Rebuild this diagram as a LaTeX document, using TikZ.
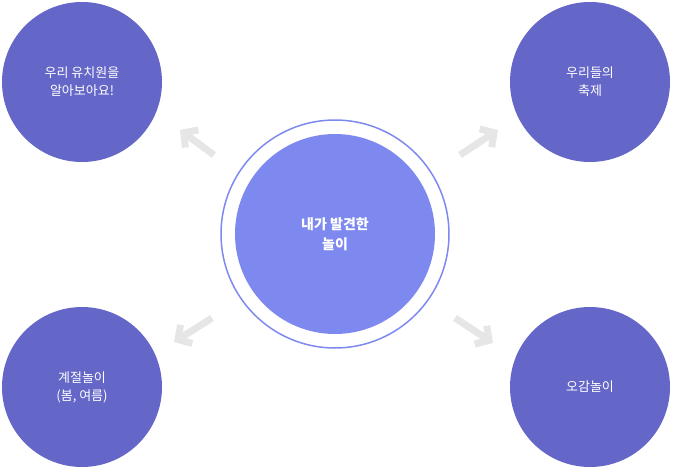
\documentclass[tikz,border=0pt]{standalone}
\usepackage{fontspec}
\setmainfont{Noto Sans CJK KR}
\usetikzlibrary{arrows.meta}
\begin{document}
\begin{tikzpicture}[x=1pt,y=-1pt,
  sat/.style={circle,fill=sat,minimum size=160pt,inner sep=0pt,text=white,font=\fontsize{13}{18}\selectfont,align=center},
  arr/.style={draw=arrg,line width=7pt,-{Straight Barb[length=10pt,width=22pt,line width=7pt]}}]
\definecolor{sat}{HTML}{6466C8}
\definecolor{main}{HTML}{7E89F0}
\definecolor{arrg}{HTML}{E6E6E6}
\useasboundingbox (0,0) rectangle (673,469);
\node[circle,draw=main,line width=1.5pt,minimum size=228pt,inner sep=0pt] (ring) at (335,234) {};
\node[circle,fill=main,minimum size=200pt,inner sep=0pt,text=white,font=\fontsize{14}{20}\selectfont\bfseries,align=center] (c) at (335,234) {내가 발견한\\놀이};
\node[sat] (a) at (82,82) {우리 유치원을\\알아보아요!};
\node[sat] (b) at (590,82) {우리들의\\축제};
\node[sat] (d) at (82,387) {계절놀이\\(봄, 여름)};
\node[sat] (e) at (590,387) {오감놀이};
\coordinate (a1) at (214,155); \coordinate (a2) at (180,130);
\coordinate (b1) at (460,155); \coordinate (b2) at (498,130);
\coordinate (d1) at (212,318); \coordinate (d2) at (174,342);
\coordinate (e1) at (455,318); \coordinate (e2) at (493,343);
\draw[arr] (a1) -- (a2);
\draw[arr] (b1) -- (b2);
\draw[arr] (d1) -- (d2);
\draw[arr] (e1) -- (e2);
\end{tikzpicture}
\end{document}
